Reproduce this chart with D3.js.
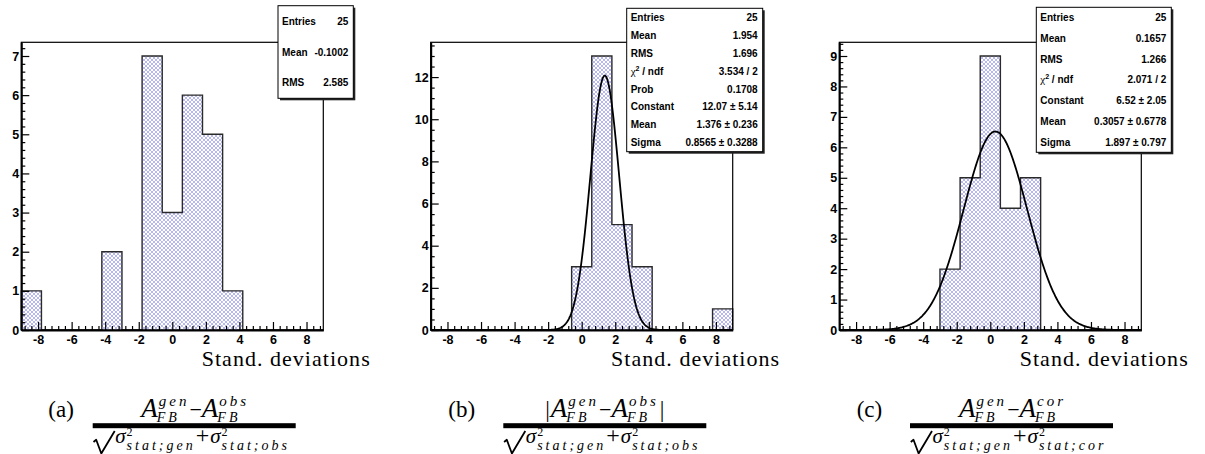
<!DOCTYPE html>
<html>
<head>
<meta charset="utf-8">
<script src="https://cdn.jsdelivr.net/npm/d3@7"></script>
<style>
  body { margin: 0; background: #fff; }
  svg { display: block; }
</style>
</head>
<body>
<svg width="1205" height="454"></svg>
<script>
// histogram definition: 15 bins from -9 to 9
var xMin = -9, xMax = 9, nBins = 15;
var countsA = [1, 0, 0, 0, 2, 0, 7, 3, 6, 5, 1, 0, 0, 0, 0];
var countsB = [0, 0, 0, 0, 0, 0, 0, 3, 13, 5, 3, 0, 0, 0, 1];
var countsC = [0, 0, 0, 0, 0, 2, 5, 9, 4, 5, 0, 0, 0, 0, 0];

// gaussian fit parameters (from stat boxes)
var fitB = { constant: 12.07, mean: 1.376, sigma: 0.8565 };
var fitC = { constant: 6.52, mean: 0.3057, sigma: 1.897 };

var statsA = [["Entries", "25"], ["Mean", "-0.1002"], ["RMS", "2.585"]];
var statsB = [["Entries", "25"], ["Mean", "1.954"], ["RMS", "1.696"], ["chi2", "3.534 / 2"],
              ["Prob", "0.1708"], ["Constant", "12.07 \u00b1 5.14"], ["Mean", "1.376 \u00b1 0.236"],
              ["Sigma", "0.8565 \u00b1 0.3288"]];
var statsC = [["Entries", "25"], ["Mean", "0.1657"], ["RMS", "1.266"], ["chi2", "2.071 / 2"],
              ["Constant", "6.52 \u00b1 2.05"], ["Mean", "0.3057 \u00b1 0.6778"], ["Sigma", "1.897 \u00b1 0.797"]];

var xTicks = [-8, -6, -4, -2, 0, 2, 4, 6, 8];
var yTicksA = [0, 1, 2, 3, 4, 5, 6, 7];
var yTicksB = [0, 2, 4, 6, 8, 10, 12];
var yTicksC = [0, 1, 2, 3, 4, 5, 6, 7, 8, 9];
var xTitle = "Stand. deviations";

var captionLabels = ["(a)", "(b)", "(c)"];
var numerSups = [["gen", "obs"], ["gen", "obs"], ["gen", "cor"]];
var numerAbs = [false, true, false];
var denomSubs = [["stat;gen", "stat;obs"], ["stat;gen", "stat;obs"], ["stat;gen", "stat;cor"]];

const svg = d3.select("svg");
var serif = "'Liberation Serif', 'DejaVu Serif', serif";
var sans = "'Liberation Sans', Arial, sans-serif";
var frameW = 302, frameTop = 42.3, frameBottom = 330;

var panels = [
  { left: 21.3, counts: countsA, fit: null, stats: statsA, yTicks: yTicksA, yMinor: 0.2,
    box: { x: 278, y: 5.7, h: 92.6 }, cap: { lx: 48.3, bx: 92.7 } },
  { left: 430.7, counts: countsB, fit: fitB, stats: statsB, yTicks: yTicksB, yMinor: 0.5,
    box: { x: 626.7, y: 8.3, h: 143.4 }, cap: { lx: 448.3, bx: 503.3 } },
  { left: 839.3, counts: countsC, fit: fitC, stats: statsC, yTicks: yTicksC, yMinor: 0.2,
    box: { x: 1036.3, y: 7.3, h: 145 }, cap: { lx: 856.7, bx: 910 } }
];

// cross hatch like ROOT fill style
var defs = svg.append("defs");
var pat = defs.append("pattern").attr("id", "hatch")
    .attr("patternUnits", "userSpaceOnUse").attr("width", 4).attr("height", 4);
pat.append("rect").attr("width", 4).attr("height", 4).attr("fill", "#fff");
pat.append("path").attr("d", "M-1,-1L5,5M5,-1L-1,5")
    .attr("stroke", "#8686ea").attr("stroke-width", 0.6);

var edges = d3.range(nBins + 1).map(i => xMin + i * (xMax - xMin) / nBins);

panels.forEach(function(p, pi) {
    var g = svg.append("g");
    var right = p.left + frameW;
    var x = d3.scaleLinear().domain([xMin, xMax]).range([p.left, right]);
    var yMax = 1.05 * d3.max(p.counts);
    var y = d3.scaleLinear().domain([0, yMax]).range([frameBottom, frameTop]);

    var bins = p.counts.map((c, i) => ({ lo: edges[i], hi: edges[i + 1], c: c }));

    g.selectAll("rect.bin")
      .data(bins.filter(b => b.c > 0))
      .join("rect")
        .attr("class", "bin")
        .attr("x", b => x(b.lo))
        .attr("width", b => x(b.hi) - x(b.lo))
        .attr("y", b => y(b.c))
        .attr("height", b => y(0) - y(b.c))
        .attr("fill", "url(#hatch)");

    var pts = [[xMin, 0]];
    bins.forEach(b => { pts.push([b.lo, b.c]); pts.push([b.hi, b.c]); });
    pts.push([xMax, 0]);
    g.append("path")
        .attr("d", d3.line().x(d => x(d[0])).y(d => y(d[1]))(pts))
        .attr("fill", "none")
        .attr("stroke", "#2a2a2a")
        .attr("stroke-width", 1.4);

    // frame
    g.append("rect")
        .attr("x", p.left).attr("y", frameTop)
        .attr("width", frameW).attr("height", frameBottom - frameTop)
        .attr("fill", "none").attr("stroke", "#000").attr("stroke-width", 1.2);

    if (p.fit) {
        var f = p.fit;
        var xs = d3.range(0, 401).map(i => xMin + i * (xMax - xMin) / 400);
        g.append("path")
            .attr("d", d3.line()
                .x(d => x(d))
                .y(d => y(f.constant * Math.exp(-0.5 * Math.pow((d - f.mean) / f.sigma, 2))))(xs))
            .attr("fill", "none")
            .attr("stroke", "#000")
            .attr("stroke-width", 1.8);
    }

    // x axis (ticks point up)
    var xMinorVals = d3.range(-22, 23).map(i => i * 0.4)
        .filter(v => v > xMin && v < xMax && Math.abs(v / 2 - Math.round(v / 2)) > 1e-6);
    g.append("g")
        .attr("transform", "translate(0," + frameBottom + ")")
        .call(d3.axisBottom(x).tickValues(xMinorVals).tickSize(-4).tickSizeOuter(0).tickFormat(""))
        .call(a => a.select(".domain").remove());
    var xa = g.append("g")
        .attr("transform", "translate(0," + frameBottom + ")")
        .call(d3.axisBottom(x).tickValues(xTicks).tickSize(-8).tickSizeOuter(0)
              .tickPadding(5).tickFormat(d => String(d)));
    xa.select(".domain").attr("stroke-width", 2);

    // y axis (ticks point right)
    var step = p.yTicks[1] - p.yTicks[0];
    var yMinorVals = d3.range(0, yMax, p.yMinor)
        .filter(v => Math.abs(v / step - Math.round(v / step)) > 1e-6);
    g.append("g")
        .attr("transform", "translate(" + p.left + ",0)")
        .call(d3.axisLeft(y).tickValues(yMinorVals).tickSize(-4).tickSizeOuter(0).tickFormat(""))
        .call(a => a.select(".domain").remove());
    var ya = g.append("g")
        .attr("transform", "translate(" + p.left + ",0)")
        .call(d3.axisLeft(y).tickValues(p.yTicks).tickSize(-8).tickSizeOuter(0)
              .tickPadding(2).tickFormat(d => String(d)));
    ya.select(".domain").attr("stroke-width", 2);

    g.selectAll(".tick line").attr("stroke", "#000").attr("stroke-width", 1.2);
    g.selectAll(".tick text")
        .attr("font-family", sans).attr("font-weight", "bold").attr("font-size", 12.5).attr("fill", "#000");

    // axis title
    g.append("text")
        .attr("x", p.left + 180.4).attr("y", 366)
        .attr("font-family", serif).attr("font-size", 22)
        .attr("textLength", 168).attr("lengthAdjust", "spacing")
        .text(xTitle);

    // stats box
    var bx = p.box.x, bw = right + 30 - bx, bh = p.box.h, by = p.box.y;
    g.append("rect").attr("x", bx + 2).attr("y", by + 2).attr("width", bw).attr("height", bh).attr("fill", "#222");
    g.append("rect").attr("x", bx).attr("y", by).attr("width", bw).attr("height", bh)
        .attr("fill", "#fff").attr("stroke", "#000").attr("stroke-width", 1);
    var rowH = bh / p.stats.length;
    p.stats.forEach(function(s, i) {
        var ty = by + (i + 0.5) * rowH;
        var lab = g.append("text")
            .attr("x", bx + 4).attr("y", ty).attr("dy", "0.36em")
            .attr("font-family", sans).attr("font-weight", "bold").attr("font-size", 10);
        if (s[0] === "chi2") {
            lab.append("tspan").attr("font-weight", "normal").attr("font-family", serif).attr("font-size", 11).text("\u03c7");
            lab.append("tspan").attr("font-size", 7).attr("dy", -4).text("2");
            lab.append("tspan").attr("dy", 4).text(" / ndf");
        } else {
            lab.text(s[0]);
        }
        g.append("text")
            .attr("x", bx + bw - 5).attr("y", ty).attr("dy", "0.36em")
            .attr("text-anchor", "end")
            .attr("font-family", sans).attr("font-weight", "bold").attr("font-size", 10)
            .text(s[1]);
    });
});

// math captions
function put(gr, x, y, str, size, italic, ls) {
    var t = gr.append("text").attr("x", x).attr("y", y)
        .attr("font-family", serif).attr("font-size", size)
        .attr("font-style", italic ? "italic" : "normal")
        .style("letter-spacing", (ls || 0) + "px")
        .text(str);
    return t.node().getComputedTextLength();
}

function scripted(gr, x, base, baseSize, sup, supSize, supShift, sub, subShift, ls, supGap, subGap) {
    var wb = put(gr, x, 0, base, baseSize, true, 0);
    var digit = /^\d/.test(sup);
    var ws = put(gr, x + wb + supGap, supShift, sup, supSize, !digit, digit ? 0 : ls);
    var wsub = put(gr, x + wb + subGap, subShift, sub, 14, true, ls);
    return wb + Math.max(ws + supGap, wsub + subGap);
}

panels.forEach(function(p, i) {
    var c = p.cap;
    var g = svg.append("g");
    var barW = 203;
    g.append("text").attr("x", c.lx).attr("y", 416.5)
        .attr("font-family", serif).attr("font-size", 23).text(captionLabels[i]);
    g.append("rect").attr("x", c.bx).attr("y", 423.2).attr("width", barW).attr("height", 5).attr("fill", "#000");

    // numerator
    var num = g.append("g");
    var cx = 0;
    if (numerAbs[i]) cx += put(num, cx, 0, "|", 23, false, 0) + 1;
    cx += scripted(num, cx, "A", 27, numerSups[i][0], 15, -11, "FB", 5, 3, 1, -1);
    cx += put(num, cx, 0, "\u2212", 22, false, 0);
    cx += scripted(num, cx, "A", 27, numerSups[i][1], 15, -11, "FB", 5, 3, 1, -1);
    if (numerAbs[i]) cx += put(num, cx + 1, 0, "|", 23, false, 0);
    var bb = num.node().getBBox();
    num.attr("transform", "translate(" + (c.bx + barW / 2 - (bb.x + bb.width / 2)) + ",416.5)");

    // denominator
    var den = g.append("g").attr("transform", "translate(" + c.bx + ",443)");
    den.append("path")
        .attr("d", "M0.8,-1 L3.5,-3.2 L8.6,10.5 L22,-12")
        .attr("fill", "none").attr("stroke", "#000").attr("stroke-width", 1.8)
        .attr("stroke-linejoin", "round");
    var dx = 22.5;
    dx += scripted(den, dx, "\u03c3", 21, "2", 12, -7, denomSubs[i][0], 6.5, 3, 1, 1);
    dx += put(den, dx, 0, "+", 24, false, 0);
    dx += 1;
    dx += scripted(den, dx, "\u03c3", 21, "2", 12, -7, denomSubs[i][1], 6.5, 3, 1, 1);
});
</script>
</body>
</html>
